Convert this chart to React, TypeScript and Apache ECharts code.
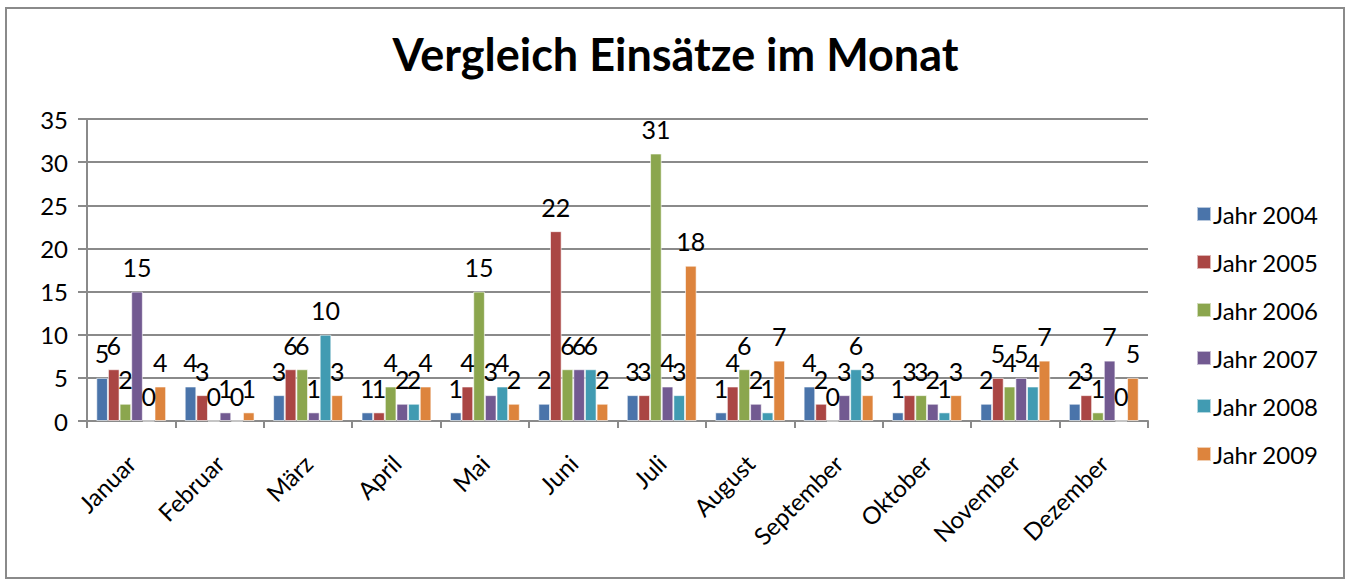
import React, { useEffect, useRef } from "react";
import * as echarts from "echarts";

const months = ["Januar", "Februar", "März", "April", "Mai", "Juni", "Juli", "August", "September", "Oktober", "November", "Dezember"];
const jahr2004 = [5, 4, 3, 1, 1, 2, 3, 1, 4, 1, 2, 2];
const jahr2005 = [6, 3, 6, 1, 4, 22, 3, 4, 2, 3, 5, 3];
const jahr2006 = [2, 0, 6, 4, 15, 6, 31, 6, 0, 3, 4, 1];
const jahr2007 = [15, 1, 1, 2, 3, 6, 4, 2, 3, 2, 5, 7];
const jahr2008 = [0, 0, 10, 2, 4, 6, 3, 1, 6, 1, 4, 0];
const jahr2009 = [4, 1, 3, 4, 2, 2, 18, 7, 3, 3, 7, 5];
const seriesNames = ["Jahr 2004", "Jahr 2005", "Jahr 2006", "Jahr 2007", "Jahr 2008", "Jahr 2009"];
const seriesData = [jahr2004, jahr2005, jahr2006, jahr2007, jahr2008, jahr2009];
const colors = ["#4a74aa", "#aa4644", "#8ba64e", "#725a91", "#419bb2", "#dd843d"];

const FONT = "Lato, 'Liberation Sans', sans-serif";

export default function App() {
  const ref = useRef<HTMLDivElement>(null);
  useEffect(() => {
    if (!ref.current) return;
    const chart = echarts.init(ref.current, undefined, { renderer: "svg" });
    chart.setOption({
      animation: false,
      color: colors,
      textStyle: { fontFamily: FONT },
      title: {
        text: "Vergleich Einsätze im Monat",
        left: "center",
        top: 26,
        textStyle: { fontFamily: FONT, fontSize: 45, fontWeight: "bold", color: "#000" },
      },
      graphic: [
        {
          type: "rect",
          shape: { x: 6, y: 8, width: 1338, height: 570 },
          style: { fill: "none", stroke: "#8a8a8a", lineWidth: 2 },
          silent: true,
        },
      ],
      legend: {
        orient: "vertical",
        left: 1191,
        top: 196,
        itemWidth: 14,
        itemHeight: 14,
        itemGap: 22,
        icon: "rect",
        textStyle: { fontFamily: FONT, fontSize: 24, lineHeight: 26, color: "#000", padding: [0, 0, 0, -3] },
        data: seriesNames,
      },
      grid: { left: 87, right: 203, top: 119, bottom: 162, containLabel: false },
      xAxis: {
        type: "category",
        data: months,
        axisLine: { lineStyle: { color: "#8a8a8a", width: 2 } },
        axisTick: { show: true, length: 7, lineStyle: { color: "#8a8a8a", width: 2 } },
        axisLabel: { rotate: 45, fontFamily: FONT, fontSize: 24, color: "#000", margin: 38, interval: 0 },
      },
      yAxis: {
        type: "value",
        min: 0,
        max: 35,
        interval: 5,
        axisLine: { show: true, lineStyle: { color: "#8a8a8a", width: 2 } },
        axisTick: { show: true, length: 9, lineStyle: { color: "#8a8a8a", width: 2 } },
        axisLabel: { fontFamily: FONT, fontSize: 24, color: "#000", margin: 19 },
        splitLine: { lineStyle: { color: "#8a8a8a", width: 2 } },
      },
      series: seriesNames.map((name, i) => ({
        name,
        type: "bar",
        data: seriesData[i],
        barGap: "0%",
        barCategoryGap: "21%",
        itemStyle: { color: colors[i], borderColor: "rgba(255,255,255,0.6)", borderWidth: 1 },
        label: {
          show: true,
          position: "top",
          distance: 12,
          fontFamily: FONT,
          fontSize: 25,
          color: "#000",
        },
      })),
    });
    return () => chart.dispose();
  }, []);
  return <div ref={ref} style={{ position: "absolute", left: 0, top: 0, width: 1351, height: 583, background: "#fff" }} />;
}
